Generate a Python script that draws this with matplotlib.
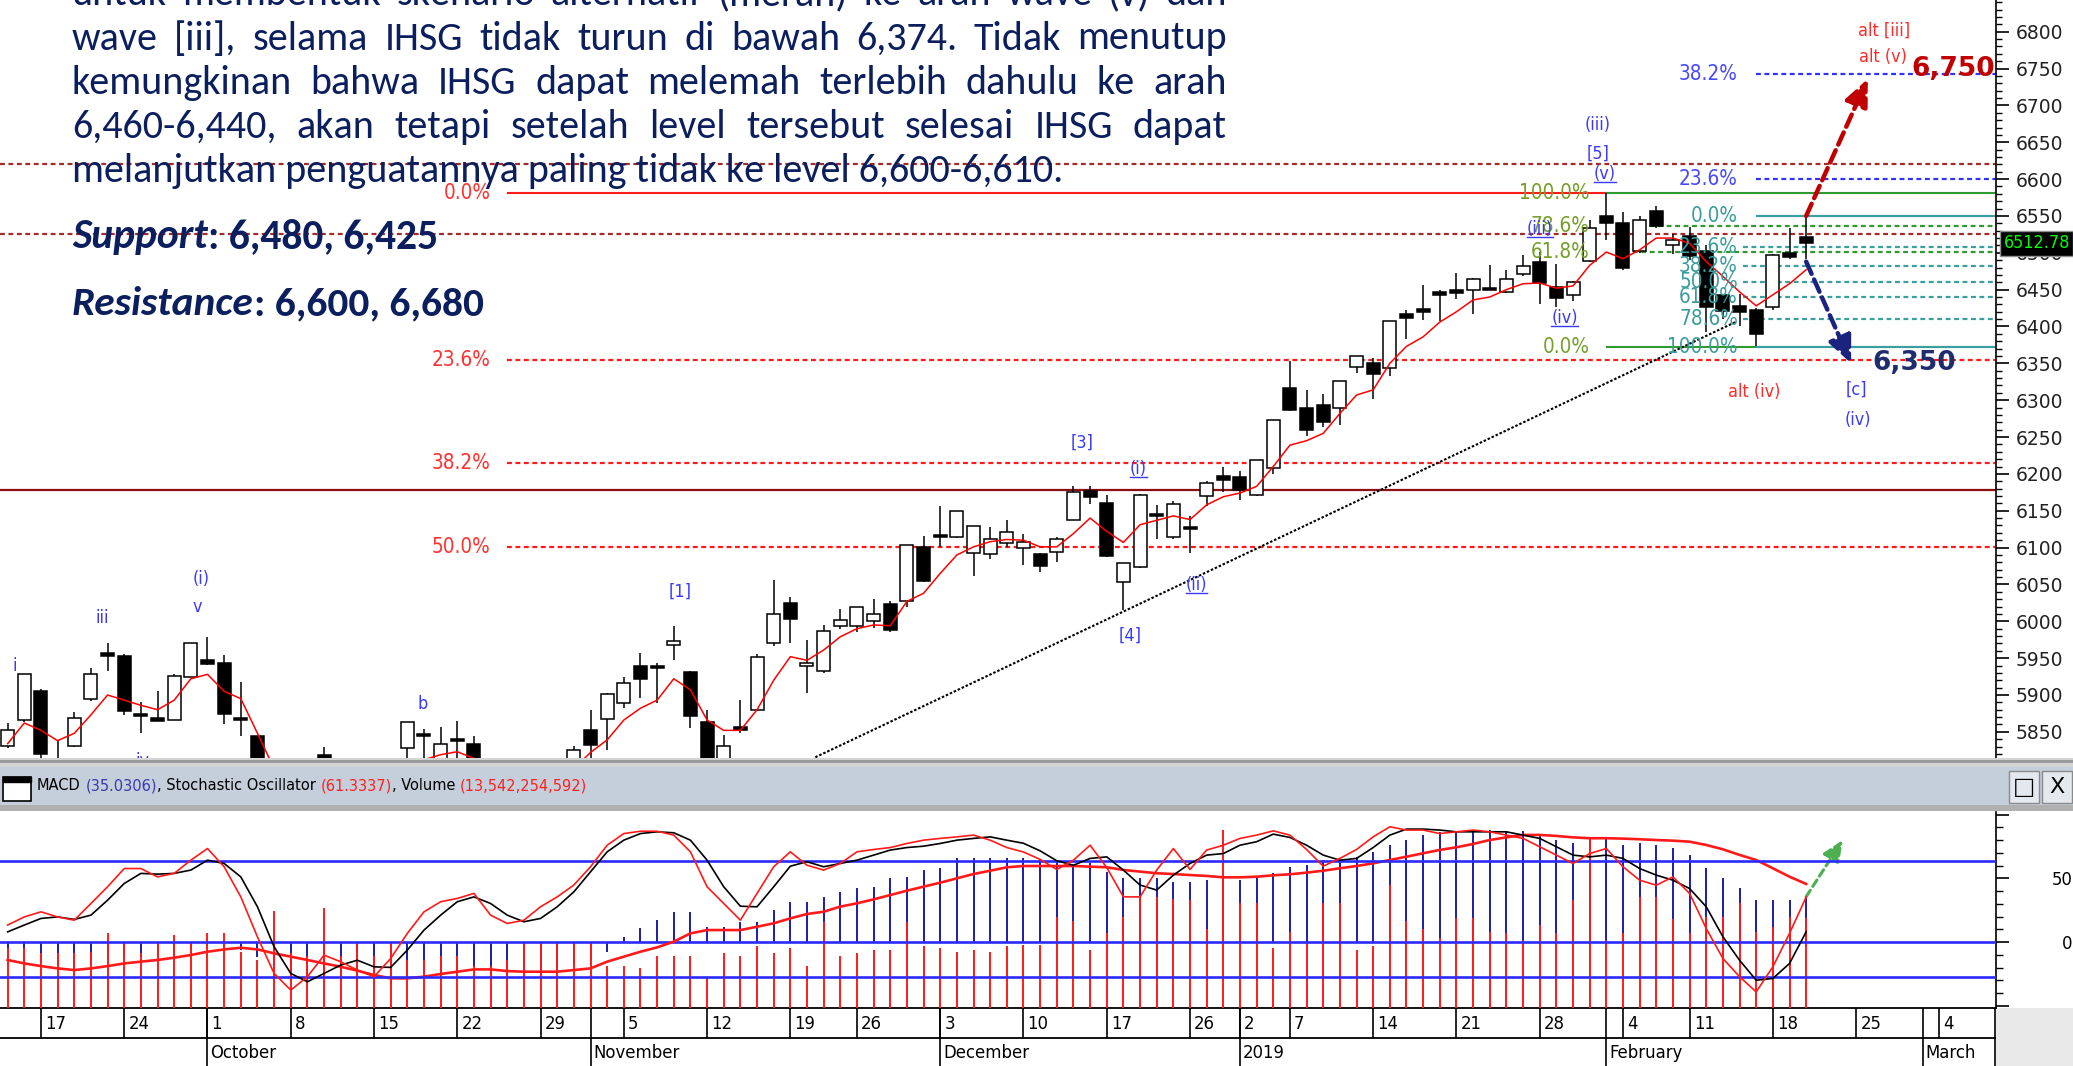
import os
import numpy as np
import matplotlib
matplotlib.use("Agg")
import matplotlib.pyplot as plt
from matplotlib import font_manager as fm
from matplotlib.font_manager import FontProperties
from matplotlib.patches import Rectangle
from matplotlib.lines import Line2D
from matplotlib.ticker import MultipleLocator, FuncFormatter

# ------------------------------------------------------------------ data
# trading-day index 0 = 13 Sep 2018 ... 108 = 20 Feb 2019
opens = [5831, 5866, 5905, 5800, 5831, 5894, 5957, 5953, 5874, 5869,
         5866, 5925, 5947, 5944, 5869, 5844, 5790, 5722, 5720, 5818,
         5790, 5720, 5745, 5720, 5828, 5847, 5805, 5840, 5834, 5790,
         5790, 5760, 5785, 5755, 5800, 5852, 5868, 5889, 5939, 5940,
         5968, 5931, 5863, 5805, 5857, 5879, 5970, 6025, 5939, 5932,
         5994, 5994, 6000, 6024, 6027, 6101, 6117, 6114, 6093, 6091,
         6106, 6099, 6091, 6094, 6138, 6177, 6160, 6053, 6073, 6146,
         6114, 6128, 6170, 6197, 6196, 6172, 6208, 6316, 6290, 6293,
         6289, 6345, 6350, 6343, 6417, 6424, 6447, 6449, 6450, 6452,
         6447, 6471, 6487, 6454, 6443, 6489, 6550, 6541, 6502, 6557,
         6511, 6523, 6502, 6443, 6428, 6423, 6426, 6500, 6521]
highs = [5862, 5929, 5908, 5837, 5877, 5936, 5971, 5955, 5890, 5905,
         5928, 5971, 5979, 5954, 5918, 5845, 5800, 5740, 5795, 5829,
         5800, 5760, 5760, 5760, 5864, 5854, 5857, 5865, 5845, 5810,
         5800, 5790, 5800, 5790, 5831, 5880, 5903, 5924, 5957, 5943,
         5993, 5932, 5880, 5846, 5893, 5956, 6056, 6033, 5975, 5995,
         6016, 6020, 6030, 6028, 6104, 6116, 6156, 6150, 6129, 6128,
         6138, 6119, 6092, 6115, 6184, 6184, 6171, 6079, 6173, 6158,
         6163, 6143, 6190, 6210, 6204, 6219, 6273, 6353, 6314, 6309,
         6326, 6360, 6357, 6408, 6423, 6456, 6450, 6472, 6466, 6483,
         6477, 6497, 6501, 6485, 6462, 6544, 6581, 6556, 6550, 6564,
         6525, 6535, 6510, 6444, 6444, 6425, 6499, 6533, 6550]
lows = [5828, 5864, 5800, 5785, 5829, 5892, 5932, 5873, 5848, 5865,
        5866, 5924, 5941, 5860, 5845, 5785, 5725, 5690, 5715, 5790,
        5700, 5700, 5705, 5715, 5805, 5805, 5795, 5805, 5790, 5770,
        5740, 5730, 5740, 5750, 5795, 5810, 5825, 5883, 5896, 5889,
        5948, 5855, 5795, 5800, 5848, 5878, 5966, 5970, 5903, 5930,
        5990, 5985, 5991, 5985, 6020, 6053, 6101, 6113, 6062, 6085,
        6101, 6077, 6067, 6081, 6137, 6159, 6087, 6015, 6072, 6111,
        6112, 6093, 6156, 6175, 6165, 6170, 6200, 6285, 6251, 6263,
        6266, 6337, 6302, 6333, 6383, 6409, 6408, 6437, 6417, 6449,
        6446, 6469, 6431, 6427, 6434, 6487, 6517, 6477, 6500, 6534,
        6499, 6490, 6392, 6410, 6400, 6373, 6423, 6492, 6492]
closes = [5853, 5928, 5820, 5811, 5869, 5928, 5953, 5878, 5871, 5865,
          5926, 5971, 5942, 5874, 5866, 5795, 5731, 5717, 5789, 5813,
          5702, 5756, 5715, 5756, 5864, 5844, 5834, 5837, 5796, 5797,
          5754, 5785, 5751, 5769, 5825, 5832, 5902, 5916, 5922, 5937,
          5973, 5871, 5805, 5831, 5853, 5952, 6010, 6003, 5944, 5987,
          6002, 6020, 6010, 5988, 6104, 6054, 6114, 6150, 6129, 6112,
          6121, 6108, 6075, 6111, 6175, 6169, 6088, 6079, 6172, 6143,
          6159, 6125, 6188, 6192, 6178, 6219, 6273, 6287, 6260, 6271,
          6326, 6360, 6335, 6408, 6412, 6420, 6443, 6445, 6465, 6449,
          6464, 6482, 6459, 6438, 6461, 6533, 6540, 6480, 6545, 6537,
          6517, 6496, 6427, 6421, 6420, 6390, 6497, 6494, 6512.78]
ma5 = [5834, 5862, 5852, 5838, 5848, 5873, 5900, 5893, 5886, 5880,
       5893, 5922, 5928, 5905, 5895, 5848, 5800, 5765, 5745, 5748,
       5738, 5732, 5740, 5752, 5785, 5812, 5819, 5823, 5814, 5800,
       5790, 5780, 5782, 5790, 5800, 5822, 5839, 5866, 5882, 5893,
       5922, 5907, 5866, 5852, 5852, 5880, 5920, 5952, 5947, 5961,
       5979, 5990, 5995, 5994, 6027, 6038, 6065, 6090, 6101, 6108,
       6111, 6110, 6101, 6101, 6119, 6140, 6122, 6107, 6131, 6137,
       6143, 6138, 6158, 6169, 6174, 6183, 6210, 6239, 6245, 6255,
       6282, 6307, 6314, 6350, 6373, 6386, 6406, 6420, 6436, 6440,
       6450, 6458, 6459, 6452, 6455, 6483, 6501, 6492, 6504, 6520,
       6520, 6513, 6488, 6468, 6447, 6428, 6443, 6458, 6477]
stoch_k = [46.9, 51.1, 53.7, 51.1, 49.4, 58.0, 66.6, 76.0, 76.0, 71.7,
           73.5, 80.3, 86.3, 76.9, 61.4, 40.8, 22.0, 13.4, 20.3, 31.4,
           28.0, 23.7, 20.3, 29.7, 42.6, 53.7, 58.9, 60.6, 63.2, 52.0,
           47.7, 49.4, 56.3, 61.4, 67.5, 76.9, 88.0, 94.0, 95.2, 95.2,
           93.2, 84.6, 66.6, 58.0, 49.4, 63.2, 76.9, 84.6, 77.7, 75.2,
           78.6, 84.6, 85.8, 86.8, 88.9, 90.6, 91.5, 92.3, 93.2, 90.6,
           86.8, 84.5, 80.7, 75.5, 80.3, 88.0, 76.5, 61.4, 61.4, 75.2,
           86.3, 75.5, 85.5, 88.0, 91.5, 93.2, 95.4, 93.2, 85.8, 77.2,
           81.2, 85.8, 92.3, 97.5, 95.8, 95.8, 94.0, 94.9, 95.8, 94.9,
           93.2, 91.5, 87.2, 82.9, 78.6, 83.7, 86.3, 76.9, 70.0, 67.4,
           71.7, 63.2, 45.1, 29.7, 20.3, 12.5, 25.4, 42.6, 61.33]
stoch_d = [43.4, 46.9, 50.3, 51.1, 49.8, 52.0, 59.7, 68.3, 73.5, 73.1,
           73.5, 75.2, 80.3, 78.6, 71.7, 56.3, 35.7, 22.0, 17.7, 22.0,
           26.3, 28.8, 25.4, 25.1, 34.0, 44.3, 52.0, 58.9, 61.4, 58.0,
           52.0, 48.6, 50.3, 56.3, 64.0, 74.3, 84.6, 90.6, 94.0, 94.9,
           94.4, 90.6, 80.3, 66.6, 56.6, 56.3, 66.6, 77.2, 79.5, 76.9,
           78.6, 80.3, 82.9, 85.5, 86.8, 87.5, 88.9, 90.6, 91.5, 92.3,
           90.6, 89.0, 85.1, 80.0, 77.7, 81.2, 82.0, 75.2, 67.5, 64.9,
           72.6, 78.6, 82.9, 83.7, 88.0, 89.8, 93.7, 92.0, 88.0, 82.9,
           80.3, 81.2, 86.8, 93.2, 96.3, 96.3, 95.8, 94.9, 94.9, 94.9,
           94.9, 93.2, 91.5, 87.2, 82.9, 82.0, 82.9, 81.2, 76.0, 72.6,
           70.0, 65.7, 56.3, 40.9, 28.8, 18.5, 19.4, 27.1, 43.4]
macd = [-12, -13, -16, -18, -19, -17, -13, -12, -12, -12,
        -10, -6, -3, -4, -6, -12, -18, -24, -27, -28,
        -31, -32, -34, -33, -30, -28, -26, -24, -24, -25,
        -26, -24, -22, -20, -18, -15, -8, 4.2, 10.7, 17.3,
        23.8, 23.8, 12.0, 12.0, 16.0, 16.0, 25.1, 31.7, 31.7, 35.6,
        39.5, 42.2, 43.5, 50.0, 51.3, 56.6, 57.9, 65.7, 65.7, 65.7,
        65.7, 65.7, 64.4, 64.4, 60.5, 61.8, 55.3, 50.0, 50.0, 50.0,
        47.4, 47.4, 48.5, 50.0, 48.7, 50.0, 54.0, 59.2, 60.5, 64.4,
        64.4, 67.0, 71.0, 76.2, 80.1, 84.1, 86.7, 86.7, 88.0, 88.0,
        87.5, 87.5, 84.1, 80.1, 77.5, 81.5, 81.5, 76.2, 77.5, 76.2,
        73.6, 68.4, 57.9, 50.0, 42.2, 33.0, 33.0, 33.0, 35.03]
macd_signal = [-14.1, -16.8, -18.9, -20.7, -22.0, -20.7, -18.9, -16.8, -15.4, -14.1,
               -12.3, -10.2, -7.6, -5.8, -4.5, -5.8, -8.9, -11.5, -14.1, -16.8,
               -19.4, -22.5, -25.9, -28.5, -28.5, -27.2, -25.1, -23.3, -21.5, -21.5,
               -22.8, -23.3, -23.3, -23.3, -22.0, -20.7, -15.4, -11.5, -7.6, -4.2,
               0.3, 6.8, 9.4, 9.4, 9.4, 12.0, 14.7, 18.6, 22.0, 23.8,
               27.8, 30.4, 33.5, 36.9, 40.3, 43.5, 46.6, 50.0, 53.4, 56.0,
               58.7, 59.7, 59.7, 59.7, 59.7, 59.2, 58.7, 56.6, 55.3, 54.0,
               53.4, 52.6, 51.9, 50.8, 50.8, 51.3, 52.4, 53.2, 54.5, 56.0,
               57.9, 59.7, 61.8, 64.4, 67.0, 69.7, 72.3, 74.4, 77.0, 80.1,
               82.2, 84.1, 84.1, 83.3, 82.2, 81.5, 81.5, 81.2, 80.7, 80.1,
               79.6, 78.8, 76.2, 72.8, 68.4, 64.4, 57.9, 51.3, 45.6]
volume_bn = [9.0, 9.0, 8.3, 8.3, 8.3, 8.5, 11.3, 10.0, 8.3, 10.0,
             11.0, 10.0, 11.3, 11.3, 8.5, 7.3, 14.6, 8.3, 7.8, 15.1,
             7.8, 10.0, 7.8, 10.0, 7.3, 7.3, 7.8, 7.8, 6.3, 6.3,
             7.3, 10.0, 10.0, 10.0, 10.0, 9.8, 6.3, 6.3, 6.0, 7.8,
             7.8, 7.8, 4.7, 8.3, 7.8, 9.3, 8.3, 9.0, 6.3, 13.0,
             7.8, 8.3, 8.8, 8.8, 13.0, 9.3, 9.0, 8.5, 8.8, 8.5,
             9.3, 9.5, 9.5, 13.8, 13.1, 8.8, 11.3, 13.8, 16.8, 16.8,
             16.5, 16.3, 12.0, 26.9, 15.8, 15.8, 9.0, 11.5, 10.0, 15.8,
             15.8, 8.8, 9.3, 18.6, 13.1, 12.0, 10.5, 13.6, 13.6, 11.5,
             11.3, 10.3, 12.6, 11.3, 16.3, 25.9, 10.3, 11.3, 16.8, 16.8,
             13.5, 11.3, 13.8, 13.8, 15.8, 11.5, 12.3, 13.8, 13.54]

tick_idx = [2, 7, 12, 17, 22, 27, 32, 37, 42, 47, 51, 56, 61, 66, 71, 74, 77,
            82, 87, 92, 97, 101, 106, 111, 116]
tick_lbl = ['17', '24', '1', '8', '15', '22', '29', '5', '12', '19', '26', '3',
            '10', '17', '26', '2', '7', '14', '21', '28', '4', '11', '18', '25', '4']
month_idx = [12, 35, 56, 74, 96, 115]
month_lbl = ['October', 'November', 'December', '2019', 'February', 'March']

red_fib_lvls = [6581.6, 6354.6, 6215.0, 6101.0]
red_fib_lbls = ['0.0%', '23.6%', '38.2%', '50.0%']
green_fib_lvls = [6581.6, 6536.7, 6501.5, 6371.8]
green_fib_lbls = ['100.0%', '78.6%', '61.8%', '0.0%']
teal_fib_lvls = [6550.0, 6508.0, 6482.0, 6461.0, 6440.0, 6410.0, 6372.6]
teal_fib_lbls = ['0.0%', '23.6%', '38.2%', '50.0%', '61.8%', '78.6%', '100.0%']
blue_fib_lvls = [6742.6, 6600.0]
blue_fib_lbls = ['38.2%', '23.6%']
darkred_dotted_lvls = [6620.0, 6525.0]
darkred_solid_lvl = 6178.0
trend_idx = [48.5, 103.8]
trend_price = [5815.5, 6406.5]
target_up = 6750
target_dn = 6350
last_price = 6512.78

# ------------------------------------------------------------------ figure
W, H = 2073, 1066
fig = plt.figure(figsize=(W / 100, H / 100), dpi=100)
fig.patch.set_facecolor('white')
renderer = fig.canvas.get_renderer()

# ------------------------------------------------------------------ fonts
names = {f.name for f in fm.fontManager.ttflist}
files = [os.path.basename(f.fname) for f in fm.fontManager.ttflist]
if 'Liberation Sans Narrow' in names:
    NKW = dict(family='Liberation Sans Narrow')
elif any('DejaVuSansCondensed' in f for f in files):
    NKW = dict(family='DejaVu Sans', stretch='condensed')
else:
    NKW = dict(family='Liberation Sans')
HEADER = "MACD (35.0306), Stochastic Oscillator (61.3337), Volume (13,542,254,592)"
_probe = fig.text(0, 0, HEADER, fontproperties=FontProperties(size=15, **NKW))
NSCALE = 552.0 / _probe.get_window_extent(renderer).width
_probe.remove()


def NF(size, weight='normal'):
    return FontProperties(size=size * NSCALE, weight=weight, **NKW)


PARA = next((n for n in ['Carlito', 'Lato', 'Open Sans'] if n in names), 'DejaVu Sans')


def px_axes(x0, y0, x1, y1):
    return fig.add_axes([x0 / W, 1 - y1 / H, (x1 - x0) / W, (y1 - y0) / H])


def frect(x0, y0, x1, y1, **kw):
    fig.add_artist(Rectangle((x0 / W, 1 - y1 / H), (x1 - x0) / W, (y1 - y0) / H,
                             transform=fig.transFigure, **kw))


X0, X1 = -0.46, 119.4
P0, P1 = 5814.5, 6843.0
n = len(closes)
idx = np.arange(n)

# ------------------------------------------------------------------ price panel
ax = px_axes(0, 0, 1996, 758)
ax.set_xlim(X0, X1)
ax.set_ylim(P0, P1)
for s in ['top', 'left', 'bottom']:
    ax.spines[s].set_visible(False)
ax.spines['right'].set_linewidth(1.2)
ax.yaxis.tick_right()
ax.set_yticks(np.arange(5850, 6801, 50))
ax.yaxis.set_minor_locator(MultipleLocator(10))
ax.yaxis.set_major_formatter(FuncFormatter(lambda v, _: f"{int(round(v))}"))
ax.tick_params(axis='y', which='major', length=9, width=1.2, direction='out',
               pad=5, labelsize=13.5, labelcolor='#222222')
ax.tick_params(axis='y', which='minor', length=4, width=1.0, direction='out')
ax.set_xticks([])

o = np.array(opens, float)
c = np.array(closes, float)
hi = np.array(highs, float)
lo = np.array(lows, float)
up = c >= o
ax.vlines(idx, lo, hi, color='black', lw=1.1, zorder=3)
blo = np.minimum(o, c)
bh = np.maximum(np.abs(c - o), 2.5)
ax.bar(idx[up], bh[up], bottom=blo[up], width=0.78, facecolor='white',
       edgecolor='black', lw=1.1, zorder=4)
ax.bar(idx[~up], bh[~up], bottom=blo[~up], width=0.78, facecolor='black',
       edgecolor='black', lw=1.1, zorder=4)
ax.plot(idx, ma5, color='#ff0000', lw=1.1, zorder=5)

DOT = (0, (2.2, 1.6))
for lv in darkred_dotted_lvls:
    ax.hlines(lv, X0, X1, color='#a52a2a', lw=1.6, linestyles=[DOT], zorder=2)
ax.hlines(darkred_solid_lvl, X0, X1, color='#8b1010', lw=1.6, zorder=2)
ax.hlines(red_fib_lvls[0], 30.0, 96.0, color='#ff1a1a', lw=1.5, zorder=2)
for lv in red_fib_lvls[1:]:
    ax.hlines(lv, 30.0, X1, color='#ff1a1a', lw=1.6, linestyles=[DOT], zorder=2)
ax.hlines(green_fib_lvls[0], 96.0, X1, color='#2f9a2f', lw=1.5, zorder=2)
ax.hlines(green_fib_lvls[3], 96.0, 105.0, color='#2f9a2f', lw=1.5, zorder=2)
for lv in green_fib_lvls[1:3]:
    ax.hlines(lv, 96.6, X1, color='#2f9a2f', lw=1.6, linestyles=[DOT], zorder=2)
for lv in (teal_fib_lvls[0], teal_fib_lvls[-1]):
    ax.hlines(lv, 105.0, X1, color='#3a9fa0', lw=1.6, zorder=2)
for lv in teal_fib_lvls[1:-1]:
    ax.hlines(lv, 104.2, X1, color='#3a9fa0', lw=1.6, linestyles=[DOT], zorder=2)
for lv in blue_fib_lvls:
    ax.hlines(lv, 105.0, X1, color='#3030ff', lw=1.6, linestyles=[DOT], zorder=2)

FIBF = NF(19)
for lv, lb in zip(red_fib_lvls, red_fib_lbls):
    ax.text(29.0, lv, lb, color='#ff3030', fontproperties=FIBF, ha='right', va='center', zorder=6)
for lv, lb in zip(green_fib_lvls, green_fib_lbls):
    ax.text(95.0, lv, lb, color='#74a02a', fontproperties=FIBF, ha='right', va='center', zorder=6)
for lv, lb in zip(teal_fib_lvls, teal_fib_lbls):
    ax.text(103.9, lv, lb, color='#3a9c9c', fontproperties=FIBF, ha='right', va='center', zorder=6)
for lv, lb in zip(blue_fib_lvls, blue_fib_lbls):
    ax.text(103.9, lv, lb, color='#4848ff', fontproperties=FIBF, ha='right', va='center', zorder=6)

ax.plot(trend_idx, trend_price, color='black', lw=1.5, ls=(0, (1.2, 0.9)), zorder=3)

ax.annotate('', xy=(111.7, 6736), xytext=(108, 6550),
            arrowprops=dict(arrowstyle='-|>,head_length=0.9,head_width=0.4', color='#c00000',
                            lw=3.2, linestyle=(0, (3, 1.4)), shrinkA=0, shrinkB=0,
                            mutation_scale=18), zorder=8)
ax.annotate('', xy=(110.7, 6350), xytext=(108, 6488),
            arrowprops=dict(arrowstyle='-|>,head_length=0.9,head_width=0.4', color='#1a237e',
                            lw=3.2, linestyle=(0, (3, 1.4)), shrinkA=0, shrinkB=0,
                            mutation_scale=18), zorder=8)
ax.text(119.35, target_up, f"{target_up:,}", color='#c00000', fontsize=19, fontweight='bold',
        family='DejaVu Sans', ha='right', va='center', zorder=9, clip_on=False)
ax.text(112.0, target_dn, f"{target_dn:,}", color='#1f2d6e', fontsize=19, fontweight='bold',
        family='DejaVu Sans', ha='left', va='center', zorder=9)

BL = '#3a3aff'
RD = '#ff2a2a'
waves = [('i', 0.44, 5940, BL, False), ('iii', 5.7, 6004, BL, False),
         ('(i)', 11.6, 6057, BL, False), ('v', 11.4, 6020, BL, False),
         ('iv', 8.1, 5810, BL, False), ('b', 24.9, 5888, BL, False),
         ('[1]', 40.4, 6040, BL, False), ('[3]', 64.5, 6242, BL, False),
         ('(i)', 67.9, 6207, BL, True), ('[4]', 67.4, 5981, BL, False),
         ('(ii)', 71.4, 6049, BL, True), ('(iii)', 95.5, 6673, BL, False),
         ('[5]', 95.5, 6635, BL, False), ('(v)', 95.9, 6607, BL, True),
         ('(iii)', 92.0, 6532, BL, True), ('(iv)', 93.5, 6411, BL, True),
         ('[c]', 111.0, 6314, BL, False), ('(iv)', 111.1, 6273, BL, False),
         ('alt (iv)', 104.9, 6311, RD, False), ('alt [iii]', 112.7, 6801, RD, False),
         ('alt (v)', 112.6, 6766, RD, False)]
WAVEF = NF(16.5)
for s, xi, yp, col, ul in waves:
    t = ax.text(xi, yp, s, color=col, fontproperties=WAVEF, ha='center', va='center',
                zorder=7, clip_on=True)
    if ul:
        bb = t.get_window_extent(renderer)
        fig.add_artist(Line2D([bb.x0 / W, bb.x1 / W], [(bb.y0 + 1) / H] * 2,
                              transform=fig.transFigure, color=col, lw=1.0))

ax.annotate(f"{last_price:.2f}", xy=(1, last_price), xycoords=('axes fraction', 'data'),
            xytext=(5.5, 0), textcoords='offset points', ha='left', va='center',
            color='#00ff00', fontproperties=NF(16.5),
            bbox=dict(boxstyle='square,pad=0.18', fc='black', ec='#909090', lw=1.0),
            zorder=20, annotation_clip=False)

# ------------------------------------------------------------------ separators / header
frect(0, 758, W, 767, facecolor='#d4d4d4', edgecolor='none', zorder=0.5)
frect(0, 760, W, 763, facecolor='#9a9a9a', edgecolor='none', zorder=0.6)
frect(0, 767, W, 805, facecolor='#c4cfdb', edgecolor='none', zorder=0.5)
frect(0, 805, W, 811, facecolor='#b0b0b0', edgecolor='none', zorder=0.5)
frect(1996, 1008, W, H, facecolor='#e9e9e9', edgecolor='none', zorder=0.5)
frect(3, 777, 31, 801, facecolor='white', edgecolor='black', lw=1.2, zorder=2)
frect(3, 777, 31, 782, facecolor='black', edgecolor='black', lw=1.0, zorder=2.1)
frect(2009, 771, 2039, 803, facecolor='#e4e9f0', edgecolor='#8a8a8a', lw=1.0, zorder=2)
frect(2042, 771, 2072, 803, facecolor='#e4e9f0', edgecolor='#8a8a8a', lw=1.0, zorder=2)
fig.text(2024 / W, 1 - 787 / H, '\u25a1', fontsize=17, family='DejaVu Sans', ha='center',
         va='center', color='black', zorder=3)
fig.text(2057 / W, 1 - 787 / H, 'X', fontsize=16, family='DejaVu Sans', ha='center',
         va='center', color='black', zorder=3)

sp_t = fig.text(0, 0, 'a a', fontproperties=NF(15))
sp_u = fig.text(0, 0, 'aa', fontproperties=NF(15))
SPACE = sp_t.get_window_extent(renderer).width - sp_u.get_window_extent(renderer).width
sp_t.remove()
sp_u.remove()
parts = [('MACD', 'black', True), ('(35.0306)', '#3a3ab0', False),
         (', Stochastic Oscillator', 'black', True), ('(61.3337)', '#ff2020', False),
         (', Volume', 'black', True), ('(13,542,254,592)', '#ff2020', False)]
xh = 37
for s, col, gap in parts:
    t = fig.text(xh / W, 1 - 786 / H, s, color=col, fontproperties=NF(15), ha='left',
                 va='center', zorder=3)
    xh += t.get_window_extent(renderer).width + (SPACE if gap else 0)

# ------------------------------------------------------------------ indicator panel
ax_ind = px_axes(0, 812, 1996, 1008)
ax_ind.set_xlim(X0, X1)
ax_ind.set_ylim(-51.8, 102.1)
ax_ind.set_zorder(1)
ax_ind.vlines(idx, 0, macd, color='#1c1ca8', lw=1.4)

ax_vol = ax_ind.twinx()
ax_vol.set_zorder(2)
ax_vol.set_ylim(0, 29.6)
ax_vol.axis('off')
ax_vol.vlines(idx, 0, volume_bn, color='#ff1a1a', lw=1.4)

ax_sig = ax_ind.twinx()
ax_sig.set_zorder(3)
ax_sig.set_ylim(-51.8, 102.1)
ax_sig.axis('off')
ax_sig.axhline(0, color='#2b2bff', lw=1.9)
ax_sig.plot(idx, macd_signal, color='#ff1a1a', lw=1.9)
ax_sig.annotate('', xy=(110.2, 80.1), xytext=(108, 35.6),
                arrowprops=dict(arrowstyle='-|>,head_length=0.8,head_width=0.35', color='#4caf50',
                                lw=2.2, linestyle=(0, (2.5, 1.5)), shrinkA=0, shrinkB=0,
                                mutation_scale=16))

ax_st = ax_ind.twinx()
ax_st.set_zorder(4)
ax_st.set_ylim(4.2, 105.1)
ax_st.axis('off')
ax_st.axhline(80, color='#2b2bff', lw=1.9)
ax_st.axhline(20, color='#2b2bff', lw=1.9)
ax_st.plot(idx, stoch_d, color='black', lw=1.2)
ax_st.plot(idx, stoch_k, color='#ff1a1a', lw=1.2)

for s in ['top', 'left']:
    ax_ind.spines[s].set_visible(False)
ax_ind.spines['right'].set_visible(True)
ax_ind.spines['right'].set_linewidth(1.2)
ax_ind.spines['bottom'].set_linewidth(1.3)
ax_ind.yaxis.tick_right()
ax_ind.set_yticks([-50, 0, 50, 100])
ax_ind.yaxis.set_minor_locator(MultipleLocator(10))
ax_ind.yaxis.set_major_formatter(FuncFormatter(lambda v, _: f"{int(v)}" if v in (0, 50) else ''))
ax_ind.tick_params(axis='y', which='major', length=9, width=1.2, direction='out', pad=46,
                   left=False, labelleft=False, right=True, labelright=True)
ax_ind.tick_params(axis='y', which='minor', length=5, width=1.0, direction='out',
                   left=False, right=True)
ax_ind.set_xticks([])
for tk in ax_ind.yaxis.get_major_ticks():
    tk.label2.set_fontproperties(NF(17))
    tk.label2.set_horizontalalignment('right')

# ------------------------------------------------------------------ date axis
ax_d = px_axes(0, 1008, 1996, 1066)
ax_d.set_xlim(X0, X1)
ax_d.set_ylim(1066, 1008)
ax_d.axis('off')
ax_d.vlines(tick_idx, 1008, 1038, color='black', lw=1.2)
ax_d.vlines(month_idx, 1008, 1066, color='black', lw=1.2)
ax_d.hlines([1038], X0, X1, color='black', lw=1.3)
ax_d.vlines([X1 - 0.05], 1008, 1066, color='black', lw=1.2)
for t_i, lb in zip(tick_idx, tick_lbl):
    ax_d.annotate(lb, (t_i, 1024), xytext=(3, 0), textcoords='offset points',
                  ha='left', va='center', fontproperties=NF(17), color='black')
for m_i, lb in zip(month_idx, month_lbl):
    ax_d.annotate(lb, (m_i, 1053), xytext=(2, 0), textcoords='offset points',
                  ha='left', va='center', fontproperties=NF(17), color='black')

# ------------------------------------------------------------------ commentary text
NAVY = '#0b1f5e'
para = ["untuk membentuk skenario alternatif (merah) ke arah wave (v) dan",
        "wave [iii], selama IHSG tidak turun di bawah 6,374. Tidak menutup",
        "kemungkinan bahwa IHSG dapat melemah terlebih dahulu ke arah",
        "6,460-6,440, akan tetapi setelah level tersebut selesai IHSG dapat",
        "melanjutkan penguatannya paling tidak ke level 6,600-6,610."]
baselines = [5, 49.5, 93.7, 138, 182]


def twidth(s, fp):
    t = fig.text(0, 0, s, fontproperties=fp)
    w = t.get_window_extent(renderer).width
    t.remove()
    return w


base = 22
psize = base * 989 / twidth(para[4], FontProperties(family=PARA, size=base))
pfp = FontProperties(family=PARA, size=psize)
XL, XR = 72, 1227
for k, line in enumerate(para):
    yb = 1 - baselines[k] / H
    if k == len(para) - 1:
        fig.text(XL / W, yb, line, fontproperties=pfp, color=NAVY, ha='left', va='baseline')
        continue
    words = line.split(' ')
    ts = [fig.text(0, yb, w_, fontproperties=pfp, color=NAVY, ha='left', va='baseline')
          for w_ in words]
    ws = [t.get_window_extent(renderer).width for t in ts]
    gap = (XR - XL - sum(ws)) / (len(words) - 1)
    x = XL
    for t, w_ in zip(ts, ws):
        t.set_x(x / W)
        x += w_ + gap


def bold_line(head, tail, y_base, target):
    f1 = FontProperties(family=PARA, size=base, weight='bold', style='italic')
    f2 = FontProperties(family=PARA, size=base, weight='bold')
    wtot = twidth(head, f1) + twidth(tail, f2)
    sz = base * target / wtot
    f1 = FontProperties(family=PARA, size=sz, weight='bold', style='italic')
    f2 = FontProperties(family=PARA, size=sz, weight='bold')
    t1 = fig.text(XL / W, 1 - y_base / H, head, fontproperties=f1, color=NAVY, va='baseline')
    w1 = t1.get_window_extent(renderer).width
    fig.text((XL + w1) / W, 1 - y_base / H, tail, fontproperties=f2, color=NAVY, va='baseline')


bold_line('Support', ': 6,480, 6,425', 248, 366)
bold_line('Resistance', ': 6,600, 6,680', 315, 411)

fig.savefig('out.png', dpi=100, facecolor='white')
